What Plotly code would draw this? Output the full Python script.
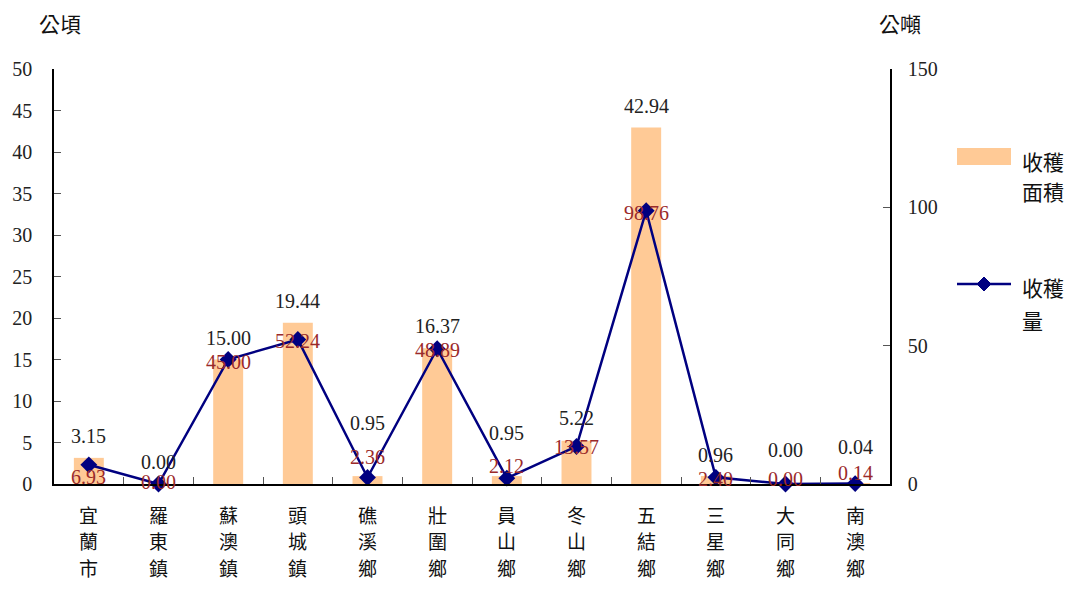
import plotly.graph_objects as go

towns = ["宜蘭市", "羅東鎮", "蘇澳鎮", "頭城鎮", "礁溪鄉", "壯圍鄉",
         "員山鄉", "冬山鄉", "五結鄉", "三星鄉", "大同鄉", "南澳鄉"]
area_ha = [3.15, 0.00, 15.00, 19.44, 0.95, 16.37, 0.95, 5.22, 42.94, 0.96, 0.00, 0.04]
yield_t = [6.93, 0.00, 45.00, 52.24, 2.36, 48.89, 2.12, 13.57, 98.76, 2.40, 0.00, 0.14]

SERIF = "Liberation Serif, Times New Roman, Noto Sans CJK TC"
CJK = "Noto Sans CJK TC, Liberation Serif"
NAVY = "#000080"
PEACH = "#FFCA96"
RED = "#9B2A2A"

# figure size is 16px smaller than the window (page body margin of 8px)
W, H = 1061, 573
ML, MR, MT, MB = 46, 179, 61, 97
PW, PH = W - ML - MR, H - MT - MB

# label offsets in pixels (positive = up), as placed in the original chart
area_lbl_shift = [22, 22, 22, 22, 53, 22, 43, 23, 22, 21, 34, 37]
yield_lbl_shift = [-12, 2, -2, -2, 20, -1, 12, -1, -2, -2, 5, 11]


def px(x):  # figure pixel -> paper x
    return (x - ML) / PW


def py(y):  # figure pixel -> paper y
    return (H - MB - y) / PH


fig = go.Figure()

fig.add_trace(go.Bar(
    x=towns, y=area_ha, name="收穫面積",
    marker=dict(color=PEACH, line=dict(width=0)),
    width=0.43, showlegend=False,
))

fig.add_trace(go.Scatter(
    x=towns, y=yield_t, name="收穫量", yaxis="y2",
    mode="lines+markers", showlegend=False, cliponaxis=False,
    line=dict(color=NAVY, width=2.5),
    marker=dict(symbol="diamond", size=13, color=NAVY),
))

annotations = []
# data labels
for t, v, s in zip(towns, area_ha, area_lbl_shift):
    annotations.append(dict(
        text=f"{v:.2f}", x=t, y=v, xref="x", yref="y",
        xanchor="center", yanchor="middle", yshift=s, showarrow=False,
        font=dict(family=SERIF, size=20, color="#222222")))
for t, v, s in zip(towns, yield_t, yield_lbl_shift):
    annotations.append(dict(
        text=f"{v:.2f}", x=t, y=v, xref="x", yref="y2",
        xanchor="center", yanchor="middle", yshift=s, showarrow=False,
        font=dict(family=SERIF, size=20, color=RED)))

# vertical category labels, one character per line
for t in towns:
    for i, ch in enumerate(t):
        annotations.append(dict(
            text=ch, x=t, y=0, xref="x", yref="paper",
            xanchor="center", yanchor="middle", yshift=-30 - 26.5 * i,
            showarrow=False, font=dict(family=CJK, size=19, color="#111111")))

# axis unit titles
annotations += [
    dict(text="公頃", x=px(52), y=py(15), xref="paper", yref="paper",
         xanchor="center", yanchor="middle", showarrow=False,
         font=dict(family=CJK, size=21, color="#111111")),
    dict(text="公噸", x=px(892), y=py(15), xref="paper", yref="paper",
         xanchor="center", yanchor="middle", showarrow=False,
         font=dict(family=CJK, size=21, color="#111111")),
]

# legend drawn by hand
for txt, yy in [("收穫", 153), ("面積", 183), ("收穫", 279), ("量", 312)]:
    annotations.append(dict(
        text=txt, x=px(1012), y=py(yy), xref="paper", yref="paper",
        xanchor="left", yanchor="middle", showarrow=False,
        font=dict(family=CJK, size=21, color="#111111")))

dx, dy = 7 / PW, 7 / PH
cx, cy = px(976), py(276)
shapes = [
    dict(type="rect", xref="paper", yref="paper",
         x0=px(949), x1=px(1003), y0=py(157), y1=py(140),
         fillcolor=PEACH, line=dict(width=0)),
    dict(type="line", xref="paper", yref="paper",
         x0=px(949), x1=px(1003), y0=cy, y1=cy,
         line=dict(color=NAVY, width=2.5)),
    dict(type="path", xref="paper", yref="paper",
         path=f"M{cx - dx},{cy} L{cx},{cy + dy} L{cx + dx},{cy} L{cx},{cy - dy} Z",
         fillcolor=NAVY, line=dict(color=NAVY, width=1)),
]

fig.update_layout(
    width=W, height=H,
    margin=dict(l=ML, r=MR, t=MT, b=MB, autoexpand=False),
    plot_bgcolor="white", paper_bgcolor="white",
    font=dict(family=SERIF, size=20, color="#222222"),
    xaxis=dict(
        range=[-0.5, len(towns) - 0.5],
        showticklabels=False,
        showline=True, linecolor="black", linewidth=1.5,
        ticks="inside", tickson="boundaries", ticklen=7, tickcolor="#555555",
        showgrid=False, zeroline=False,
    ),
    yaxis=dict(
        range=[0, 50], dtick=5,
        showline=True, linecolor="black", linewidth=1.5,
        ticks="inside", ticklen=7, tickcolor="#555555",
        showgrid=False, zeroline=False, ticklabelstandoff=16,
        tickfont=dict(family=SERIF, size=20),
    ),
    yaxis2=dict(
        range=[0, 150], dtick=50, overlaying="y", side="right",
        showline=True, linecolor="black", linewidth=1.5,
        ticks="inside", ticklen=7, tickcolor="#555555",
        showgrid=False, zeroline=False, ticklabelstandoff=12,
        tickfont=dict(family=SERIF, size=20),
    ),
    annotations=annotations,
    shapes=shapes,
)

fig.write_html("out.html")
